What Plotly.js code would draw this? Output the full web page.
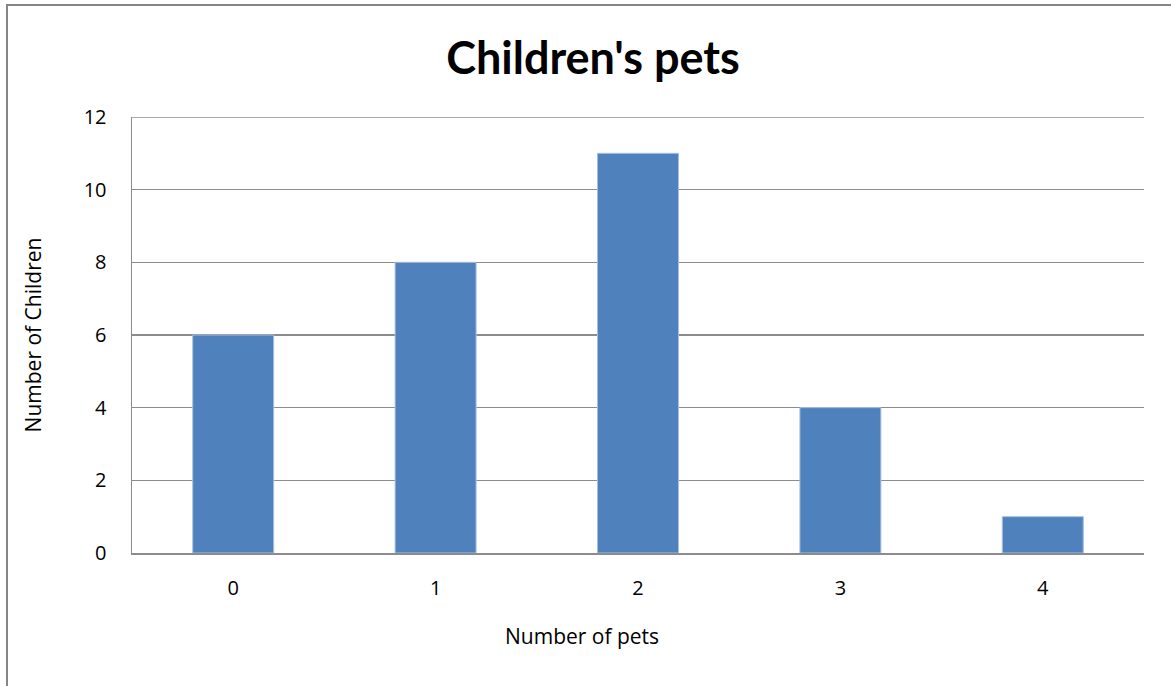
<!DOCTYPE html>
<html>
<head>
<meta charset="utf-8">
<script src="https://cdn.plot.ly/plotly-3.0.1.min.js"></script>
<style>html,body{margin:0;padding:0;background:#fff;}#chart{width:1171px;height:686px;}</style>
</head>
<body>
<div id="chart"></div>
<script>
const categories = ['0', '1', '2', '3', '4'];
const children = [6, 8, 11, 4, 1];
const yTicks = [0, 2, 4, 6, 8, 10, 12];
const chartTitle = "Children's pets";
const xTitle = 'Number of pets';
const yTitle = 'Number of Children';

const FONT = '"Open Sans", Lato, sans-serif';
const TITLE_FONT = 'Lato, "Open Sans", sans-serif';
const GRID = '#8C8C8C';

const trace = {
  type: 'bar',
  x: categories,
  y: children,
  width: 0.4,
  marker: { color: '#4F81BD', line: { color: '#A7BFDE', width: 1 } },
  hoverinfo: 'x+y'
};

const layout = {
  width: 1171,
  height: 686,
  margin: { l: 132, r: 27, t: 117, b: 133 },
  paper_bgcolor: '#ffffff',
  plot_bgcolor: '#ffffff',
  showlegend: false,
  title: {
    text: '<b>' + chartTitle + '</b>',
    font: { family: TITLE_FONT, size: 45, color: '#000000' },
    x: 593 / 1171, xref: 'container', xanchor: 'center',
    y: 1 - 58 / 686, yref: 'container', yanchor: 'middle'
  },
  xaxis: {
    type: 'category',
    tickvals: categories,
    ticktext: categories,
    showgrid: false,
    showline: true,
    linecolor: GRID,
    linewidth: 1.5,
    ticks: '',
    ticklabelstandoff: 16,
    tickfont: { family: FONT, size: 20, color: '#000000' },
    fixedrange: true
  },
  yaxis: {
    range: [0, 12],
    tickvals: yTicks,
    ticktext: yTicks.map(String),
    showgrid: true,
    gridcolor: GRID,
    gridwidth: 1.5,
    showline: true,
    linecolor: GRID,
    linewidth: 1.5,
    zeroline: false,
    ticks: '',
    ticklabelstandoff: 20,
    tickfont: { family: FONT, size: 20, color: '#000000' },
    title: { text: yTitle, font: { family: FONT, size: 21, color: '#000000' }, standoff: 36 },
    fixedrange: true
  },
  annotations: [{
    text: xTitle,
    xref: 'paper', yref: 'paper',
    x: (582 - 132) / 1012, y: (553 - 636) / 436,
    xanchor: 'center', yanchor: 'middle',
    showarrow: false,
    font: { family: FONT, size: 21, color: '#000000' }
  }],
  shapes: [{
    type: 'rect', xref: 'paper', yref: 'paper',
    x0: (7 - 132) / 1012, x1: 1.2,
    y0: -0.6, y1: (553 - 5) / 436,
    line: { color: '#868686', width: 2 },
    fillcolor: 'rgba(0,0,0,0)',
    layer: 'below'
  }, {
    type: 'line', xref: 'paper', yref: 'y',
    x0: 0, x1: 1, y0: 12, y1: 12,
    line: { color: GRID, width: 1.5 },
    layer: 'below'
  }]
};

Plotly.newPlot('chart', [trace], layout, { displayModeBar: false, staticPlot: true });
</script>
</body>
</html>
